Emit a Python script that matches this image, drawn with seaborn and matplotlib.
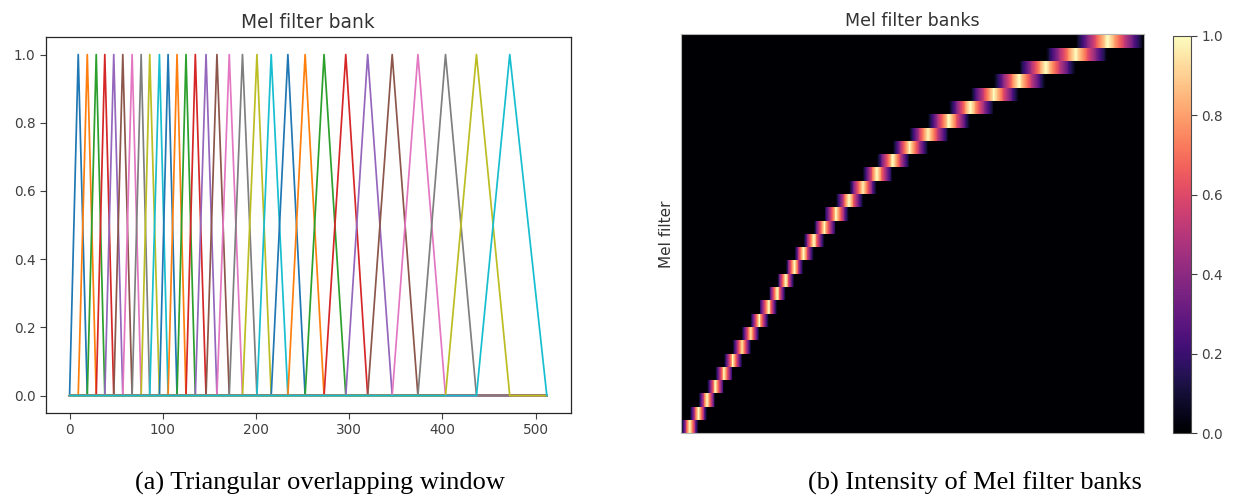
import numpy as np
import pandas as pd
import matplotlib
matplotlib.use("Agg")
import matplotlib.pyplot as plt
import seaborn as sns

# ---- data ----
# FFT-bin edges of the 30 triangular mel filters (filter i: edges[i] -> edges[i+1] (peak) -> edges[i+2])
edges = [0, 9.3, 19.0, 28.6, 37.8, 47.4, 57.1, 67.1, 76.8, 86.0, 96.4,
         105.7, 115.3, 124.9, 134.9, 146.4, 158.1, 171.3, 185.5, 201.0, 216.3,
         234.2, 252.7, 273.0, 296.3, 319.8, 346.1, 373.7, 403.3, 436.5, 472.2, 512]
n_bins = 513
x_ticks = [0, 100, 200, 300, 400, 500]
y_ticks = [0.0, 0.2, 0.4, 0.6, 0.8, 1.0]
cbar_ticks = [0.0, 0.2, 0.4, 0.6, 0.8, 1.0]
title_left = "Mel filter bank"
title_right = "Mel filter banks"
ylabel_right = "Mel filter"
caption_a = "(a) Triangular overlapping window"
caption_b = "(b) Intensity of Mel filter banks"

n_filters = len(edges) - 2

# long-format table of each filter's corner points (full 0..512 range, zero outside triangle)
rows = []
for i in range(n_filters):
    lo, pk, hi = edges[i], edges[i + 1], edges[i + 2]
    pts = [(0, 0.0), (lo, 0.0), (pk, 1.0), (hi, 0.0), (n_bins - 1, 0.0)]
    for j, (xx, yy) in enumerate(pts):
        rows.append({"filter": i, "order": j, "bin": xx, "amp": yy})
df = pd.DataFrame(rows)

# filter-bank matrix (filters x bins) for the heatmap
bins = np.arange(n_bins)
bank = np.array([np.interp(bins, [edges[i], edges[i + 1], edges[i + 2]], [0.0, 1.0, 0.0],
                           left=0.0, right=0.0) for i in range(n_filters)])

# ---- figure ----
sns.set_theme(style="ticks")
plt.rcParams["font.family"] = ["DejaVu Sans"]

W, H = 1236, 498
fig = plt.figure(figsize=(W / 100, H / 100), dpi=100)

def box(l, t, r, b):
    return [l / W, 1 - b / H, (r - l) / W, (b - t) / H]

tick_fs = 9.8

# left: triangular filters
ax1 = fig.add_axes(box(45.7, 37.5, 570.7, 412.7))
pal = sns.color_palette("tab10", n_filters)
sns.lineplot(data=df, x="bin", y="amp", hue="filter", units="filter", estimator=None,
             sort=False, palette=pal, legend=False, linewidth=1.25, ax=ax1)
ax1.set_xlim(-0.05 * (n_bins - 1), 1.05 * (n_bins - 1))
ax1.set_ylim(-0.05, 1.05)
ax1.set_xticks(x_ticks)
ax1.set_yticks(y_ticks)
ax1.set_yticklabels([f"{v:.1f}" for v in y_ticks])
ax1.set_xlabel("")
ax1.set_ylabel("")
ax1.tick_params(labelsize=tick_fs, colors="0.25", length=4, width=0.8)
for s in ax1.spines.values():
    s.set_color("0.15")
    s.set_linewidth(0.9)
ax1.set_title(title_left, fontsize=13.4, color="0.2", pad=7)

# right: heatmap
ax2 = fig.add_axes(box(681, 34.5, 1144.3, 433.3))
cax = fig.add_axes(box(1173.3, 35.7, 1190.7, 433.3))
sns.heatmap(bank, ax=ax2, cbar_ax=cax, cmap="magma", vmin=0, vmax=1,
            xticklabels=False, yticklabels=False, rasterized=True)
ax2.invert_yaxis()
for s in ax2.spines.values():
    s.set_visible(True)
    s.set_color("0.7")
    s.set_linewidth(0.8)
ax2.set_ylabel(ylabel_right, fontsize=11, color="0.2", labelpad=5)
ax2.set_title(title_right, fontsize=12.5, color="0.2", pad=6)
cb = ax2.collections[0].colorbar
cb.set_ticks(cbar_ticks)
cb.set_ticklabels([f"{v:.1f}" for v in cbar_ticks])
cb.outline.set_visible(True)
cb.outline.set_linewidth(0.8)
cb.outline.set_edgecolor("0.3")
cax.tick_params(labelsize=tick_fs, colors="0.25", length=4, width=0.8)

# captions
fig.text(320.4 / W, 1 - 483 / H, caption_a, ha="center", va="center",
         fontsize=19, family=["Liberation Serif"], color="black")
fig.text(975 / W, 1 - 483 / H, caption_b, ha="center", va="center",
         fontsize=19, family=["Liberation Serif"], color="black")

fig.savefig("out.png", dpi=100)
